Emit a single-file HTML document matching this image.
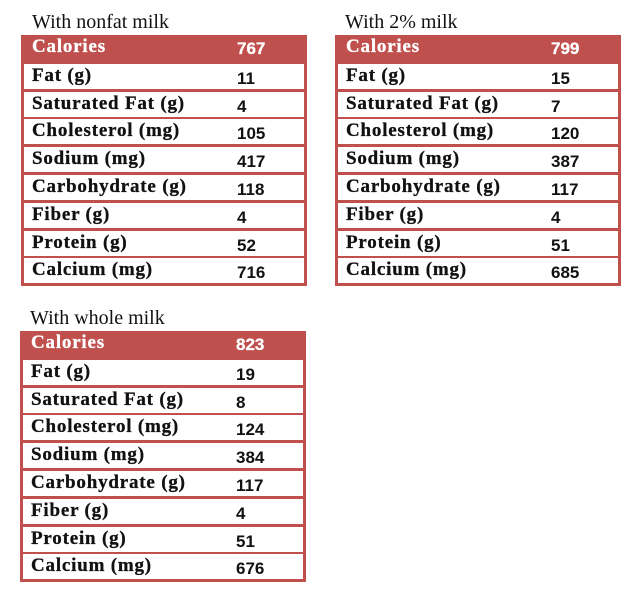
<!DOCTYPE html>
<html><head><style>
body{margin:0;width:642px;height:595px;background:#fff;position:relative;overflow:hidden}
.t{position:absolute;font-family:"Liberation Serif",serif;font-size:20px;color:#111}
.tb{position:absolute;width:286px;height:251px;background:#c0504d;box-sizing:border-box;padding:0 3px}
.r{position:absolute;left:3px;right:3px;height:25px;background:#fff}
.r.h{background:#c0504d}
.l{position:absolute;left:8px;top:1px;font-family:"Liberation Serif",serif;font-weight:bold;font-size:19px;letter-spacing:0.8px;color:#111;white-space:nowrap;-webkit-text-stroke:0.3px #111}
.v{position:absolute;left:213px;top:5px;font-family:"Liberation Sans",sans-serif;font-weight:bold;font-size:17px;color:#111}
.h .l,.h .v{color:#fff;-webkit-text-stroke:0.3px #fff}
.h .v{top:4px}
</style></head><body>
<div class="t" style="left:32px;top:11px">With nonfat milk</div>
<div class="t" style="left:345px;top:11px">With 2% milk</div>
<div class="t" style="left:30px;top:307px">With whole milk</div>
<div id="a"></div>
<script>
const data=[
[21,35,["767","11","4","105","417","118","4","52","716"]],
[335,35,["799","15","7","120","387","117","4","51","685"]],
[20,331,["823","19","8","124","384","117","4","51","676"]]];
const labels=["Calories","Fat (g)","Saturated Fat (g)","Cholesterol (mg)","Sodium (mg)","Carbohydrate (g)","Fiber (g)","Protein (g)","Calcium (mg)"];
let h="";
for(const [x,y,v] of data){
 h+=`<div class="tb" style="left:${x}px;top:${y}px">`;
 for(let i=0;i<9;i++){
  const top=i==0?0:Math.round(27.8*i)+1;
  const ht=i==0?27:25;
  h+=`<div class="r${i==0?' h':''}" style="top:${top}px;height:${ht}px"><span class="l">${labels[i]}</span><span class="v">${v[i]}</span></div>`;
 }
 h+=`</div>`;
}
document.getElementById("a").outerHTML=h;
</script>
</body></html>
